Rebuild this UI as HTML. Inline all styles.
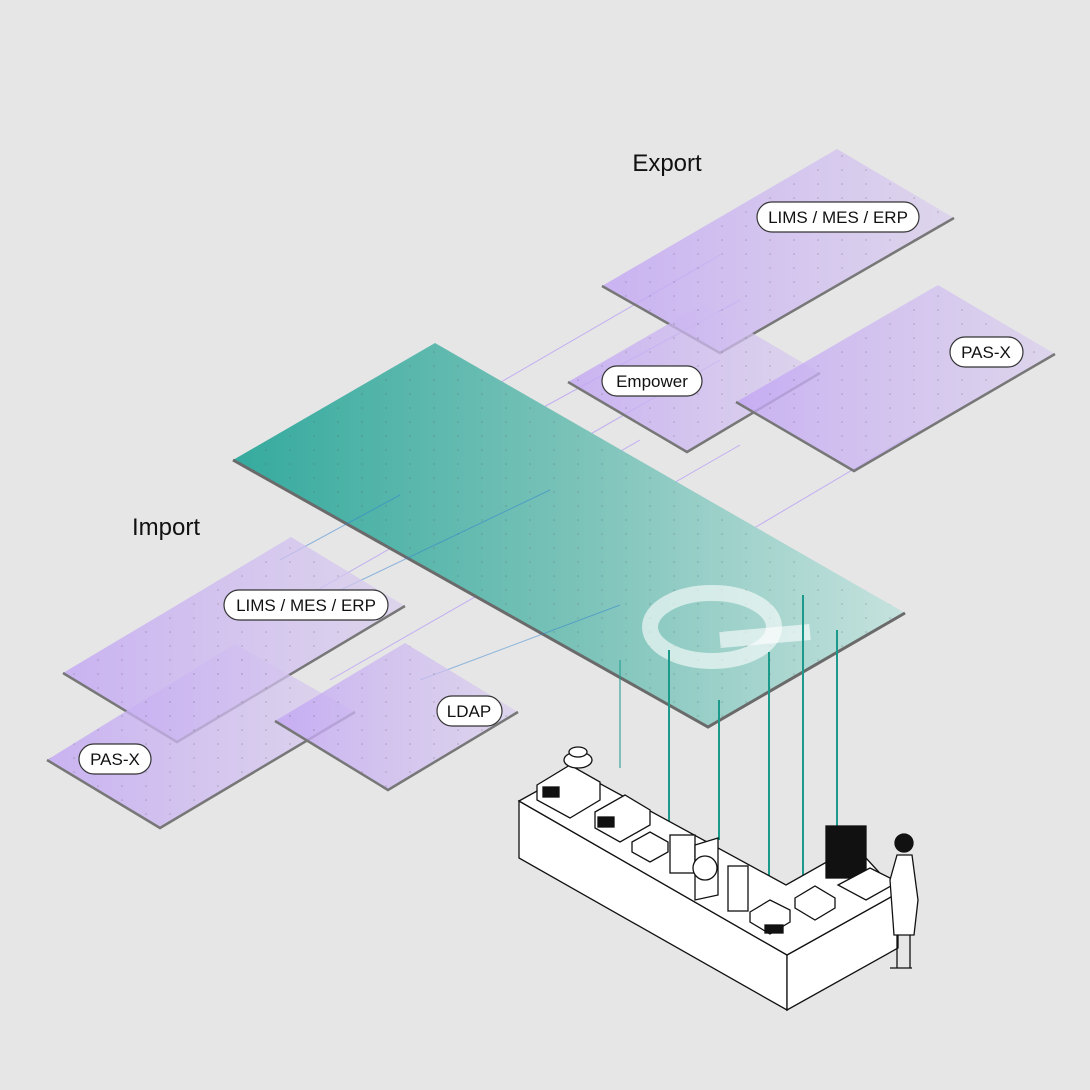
<!DOCTYPE html>
<html><head><meta charset="utf-8"><style>
html,body{margin:0;padding:0;background:#e6e6e6;}
svg{display:block;font-family:"Liberation Sans",sans-serif;}
.lbl{font-size:17px;fill:#111;text-anchor:middle;}
.pill{fill:#fff;stroke:#333;stroke-width:1.2;}
.bl{fill:#fff;stroke:#111;stroke-width:1.3;}
</style></head><body>
<svg width="1090" height="1090" viewBox="0 0 1090 1090">
<defs>
<linearGradient id="pu" x1="0" x2="1" y1="0" y2="0">
<stop offset="0" stop-color="#c2a6f4" stop-opacity="0.8"/><stop offset="1" stop-color="#d9cdee" stop-opacity="0.7"/></linearGradient>
<linearGradient id="gr" x1="0" x2="1" y1="0" y2="0">
<stop offset="0" stop-color="#35aa9e"/><stop offset="0.5" stop-color="#79c2b8"/><stop offset="1" stop-color="#c6e2de"/></linearGradient>
<pattern id="dots" width="24" height="14" patternUnits="userSpaceOnUse"><circle cx="2" cy="2" r="0.8" fill="#555" fill-opacity="0.35"/></pattern>
</defs>
<rect width="1090" height="1090" fill="#e6e6e6"/>
<g stroke="#b9a0f5" stroke-width="1" opacity="0.8">
<line x1="300" y1="600" x2="720" y2="360"/><line x1="330" y1="680" x2="740" y2="445"/>
<line x1="430" y1="560" x2="640" y2="440"/><line x1="470" y1="400" x2="720" y2="255"/>
<line x1="520" y1="420" x2="740" y2="300"/><line x1="700" y1="560" x2="920" y2="430"/>
</g>
<polygon points="602,286 837,149 954,218 720,353" fill="url(#pu)"/>
<polygon points="602,286 837,149 954,218 720,353" fill="url(#dots)"/>
<polyline points="602,286 720,353 954,218" fill="none" stroke="#777" stroke-width="2.5"/>
<polygon points="568,382 703,304 820,373 687,452" fill="url(#pu)"/>
<polygon points="568,382 703,304 820,373 687,452" fill="url(#dots)"/>
<polyline points="568,382 687,452 820,373" fill="none" stroke="#777" stroke-width="2.5"/>
<polygon points="736,402 938,285 1055,354 854,471" fill="url(#pu)"/>
<polygon points="736,402 938,285 1055,354 854,471" fill="url(#dots)"/>
<polyline points="736,402 854,471 1055,354" fill="none" stroke="#777" stroke-width="2.5"/>
<polygon points="233,460 435,343 905,613 708,727" fill="url(#gr)"/>
<polygon points="233,460 435,343 905,613 708,727" fill="url(#dots)"/>
<polyline points="233,460 708,727 905,613" fill="none" stroke="#6a6a6a" stroke-width="3"/>
<g stroke="#2f7fd0" stroke-width="1" opacity="0.5">
<line x1="280" y1="560" x2="400" y2="495"/><line x1="330" y1="595" x2="550" y2="490"/><line x1="420" y1="680" x2="620" y2="605"/></g>
<g fill="none" stroke="#ffffff" stroke-opacity="0.6" stroke-width="16">
<ellipse cx="712" cy="627" rx="62" ry="34"/>
<line x1="720" y1="640" x2="810" y2="632"/></g>
<polygon points="63,673 291,537 405,606 177,742" fill="url(#pu)"/>
<polygon points="63,673 291,537 405,606 177,742" fill="url(#dots)"/>
<polyline points="63,673 177,742 405,606" fill="none" stroke="#777" stroke-width="2.5"/>
<polygon points="47,760 235,644 355,712 160,828" fill="url(#pu)"/>
<polygon points="47,760 235,644 355,712 160,828" fill="url(#dots)"/>
<polyline points="47,760 160,828 355,712" fill="none" stroke="#777" stroke-width="2.5"/>
<polygon points="275,721 405,643 518,712 388,790" fill="url(#pu)"/>
<polygon points="275,721 405,643 518,712 388,790" fill="url(#dots)"/>
<polyline points="275,721 388,790 518,712" fill="none" stroke="#777" stroke-width="2.5"/>
<g stroke="#1b9a8c" stroke-width="2">
<line x1="620" y1="660" x2="620" y2="768" opacity="0.5"/><line x1="669" y1="650" x2="669" y2="828"/>
<line x1="719" y1="700" x2="719" y2="840"/><line x1="769" y1="652" x2="769" y2="895"/>
<line x1="803" y1="595" x2="803" y2="893"/><line x1="837" y1="630" x2="837" y2="830"/></g>
<polygon class="bl" points="519,801 787,955 787,1010 519,858"/>
<polygon class="bl" points="787,955 898,893 898,948 787,1010"/>
<polygon class="bl" points="519,801 575,770 786,885 855,846 898,893 787,955"/>
<g class="bl">
<polygon points="537,785 570,765 600,782 600,800 570,818 537,800"/>
<rect x="543" y="787" width="16" height="10" fill="#111"/>
<ellipse cx="578" cy="760" rx="14" ry="8"/><ellipse cx="578" cy="752" rx="9" ry="5"/>
<polygon points="595,812 625,795 650,810 650,825 620,842 595,828"/>
<rect x="598" y="817" width="16" height="10" fill="#111"/>
<polygon points="632,842 650,832 668,842 668,852 650,862 632,852"/>
<rect x="670" y="835" width="25" height="38"/>
<polygon points="695,845 718,838 718,895 695,900"/>
<circle cx="705" cy="868" r="12"/>
<rect x="728" y="866" width="20" height="45"/>
<polygon points="750,912 770,900 790,910 790,922 770,934 750,922"/>
<rect x="765" y="925" width="18" height="8" fill="#111"/>
<polygon points="795,898 815,886 835,898 835,908 815,920 795,908"/>
<rect x="826" y="826" width="40" height="52" fill="#111" stroke="#111"/>
<polygon points="838,885 870,868 898,882 866,900"/>
</g>
<g class="bl">
<circle cx="904" cy="843" r="9" fill="#111"/>
<polygon points="897,855 912,855 918,900 914,935 894,935 890,880"/>
<line x1="897" y1="935" x2="897" y2="968"/><line x1="910" y1="935" x2="910" y2="968"/>
<line x1="890" y1="968" x2="912" y2="968"/>
</g>
<text x="667" y="171" font-size="24" fill="#111" text-anchor="middle">Export</text>
<text x="166" y="535" font-size="24" fill="#111" text-anchor="middle">Import</text>
<rect class="pill" x="757" y="202" width="162" height="30" rx="15"/><text class="lbl" x="838" y="223">LIMS / MES / ERP</text>
<rect class="pill" x="602" y="366" width="100" height="30" rx="15"/><text class="lbl" x="652" y="387">Empower</text>
<rect class="pill" x="950" y="337" width="73" height="30" rx="15"/><text class="lbl" x="986" y="358">PAS-X</text>
<rect class="pill" x="224" y="590" width="164" height="30" rx="15"/><text class="lbl" x="306" y="611">LIMS / MES / ERP</text>
<rect class="pill" x="437" y="696" width="65" height="30" rx="15"/><text class="lbl" x="469" y="717">LDAP</text>
<rect class="pill" x="79" y="744" width="72" height="30" rx="15"/><text class="lbl" x="115" y="765">PAS-X</text>
</svg>
</body></html>
